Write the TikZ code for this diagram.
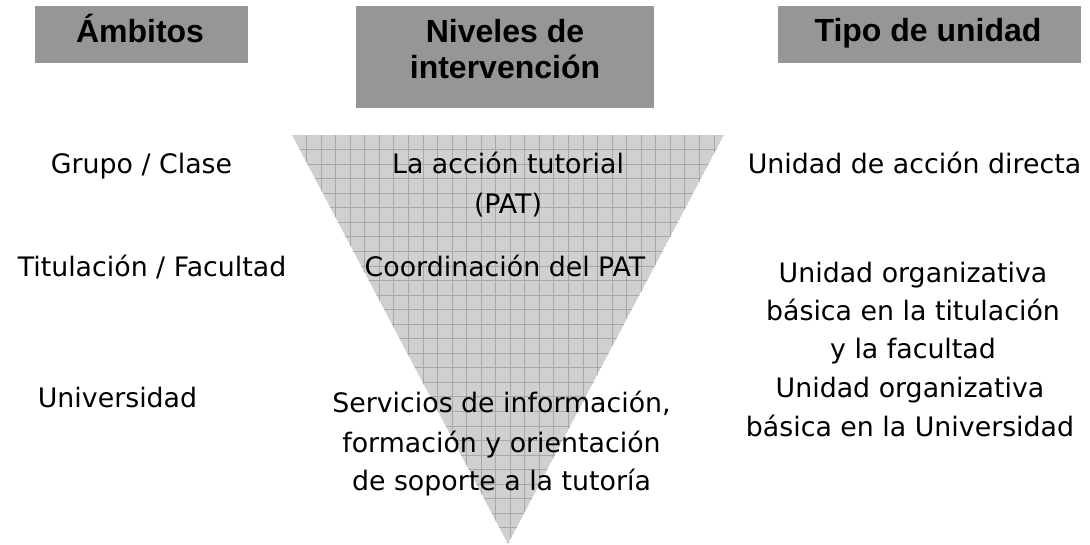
\documentclass[tikz,border=0pt]{standalone}
\usepackage{fontspec}
\setmainfont{DejaVu Sans}
\newfontfamily\headfont{Liberation Sans}
\definecolor{hdrgray}{HTML}{969696}
\definecolor{trifill}{HTML}{D0D0D0}
\definecolor{gridgray}{HTML}{A8A8A8}
\begin{document}
\begin{tikzpicture}[x=1pt,y=-1pt,
  hdrbox/.style={fill=hdrgray, draw=none, inner sep=0pt},
  htext/.style={font=\headfont\bfseries\fontsize{32}{36}\selectfont, anchor=base, inner sep=0pt},
  btext/.style={font=\fontsize{26.8}{39}\selectfont, anchor=base, inner sep=0pt}]
\useasboundingbox (0,0) rectangle (1090,544);
% header boxes
\node[hdrbox, minimum width=213pt, minimum height=57pt] (hA) at (141.5,34.5) {};
\node[hdrbox, minimum width=298pt, minimum height=102pt] (hN) at (505,57) {};
\node[hdrbox, minimum width=303pt, minimum height=57pt] (hT) at (929.5,34.5) {};
\node[htext] (tA) at (140,42) {Ámbitos};
\node[htext] (tN1) at (505,42) {Niveles de};
\node[htext] (tN2) at (505,78) {intervención};
\node[htext] (tT) at (928,41) {Tipo de unidad};
% triangle with grid
\coordinate (tl) at (292,135);
\coordinate (tr) at (724,135);
\coordinate (ap) at (508,544);
\begin{scope}
  \clip (tl) -- (tr) -- (ap) -- cycle;
  \fill[trifill] (tl) -- (tr) -- (ap) -- cycle;
  \foreach \k in {1,...,29} {
    \draw[gridgray, line width=0.9pt] (292+\k*14.55,135) -- (292+\k*14.55,544);
  }
  \foreach \k in {1,...,28} {
    \draw[gridgray, line width=0.9pt] (292,135+\k*14.55) -- (724,135+\k*14.55);
  }
\end{scope}
% left column
\node[btext] (l1) at (141.5,173) {Grupo / Clase};
\node[btext] (l2) at (152,276) {Titulación / Facultad};
\node[btext] (l3) at (117.5,407) {Universidad};
% middle column
\node[btext] (m1a) at (508,173) {La acción tutorial};
\node[btext] (m1b) at (508,213) {(PAT)};
\node[btext] (m2) at (505,276) {Coordinación del PAT};
\node[btext] (m3a) at (501.5,412) {Servicios de información,};
\node[btext] (m3b) at (501.5,452) {formación y orientación};
\node[btext] (m3c) at (501.5,490) {de soporte a la tutoría};
% right column
\node[btext] (r1) at (914.5,173) {Unidad de acción directa};
\node[btext] (r2a) at (913,282) {Unidad organizativa};
\node[btext] (r2b) at (913,320) {básica en la titulación};
\node[btext] (r2c) at (913,358) {y la facultad};
\node[btext] (r3a) at (910,397) {Unidad organizativa};
\node[btext] (r3b) at (910,436) {básica en la Universidad};
\end{tikzpicture}
\end{document}
